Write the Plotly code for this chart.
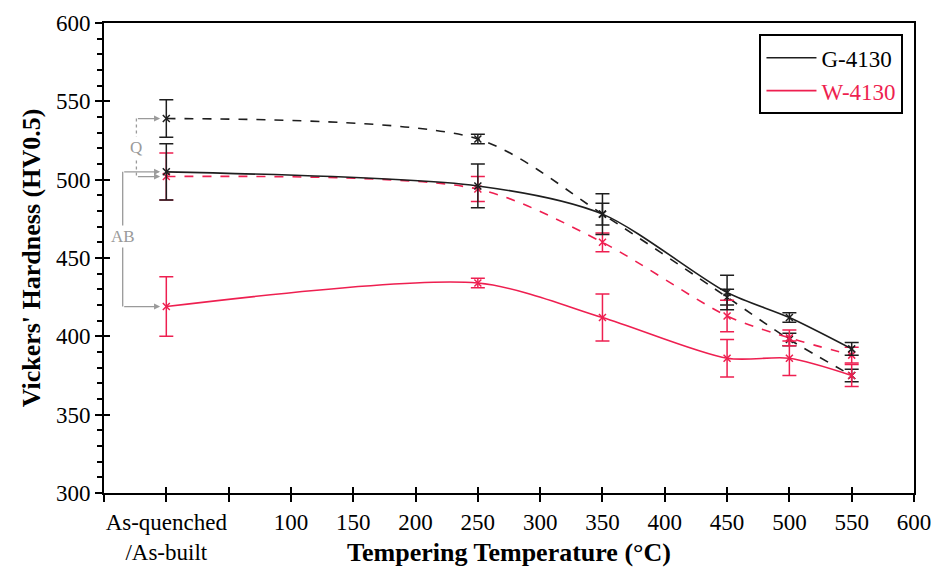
import plotly.graph_objects as go

temps = [0, 250, 350, 450, 500, 550]

g_ab = [505, 496, 478, 428, 412, 392]
g_ab_err = [18, 14, 13, 11, 3, 4]
g_q = [539, 526, 478, 425, 398, 375]
g_q_err = [12, 3, 7, 5, 4, 4]
w_ab = [419, 434, 412, 386, 386, 375]
w_ab_err = [19, 3, 15, 12, 11, 7]
w_q = [502, 494, 460, 413, 399, 388]
w_q_err = [15, 8, 6, 10, 5, 5]

x_tickvals = [-50, 0, 50, 100, 150, 200, 250, 300, 350, 400, 450, 500, 550, 600]
x_ticktext = ["", "As-quenched<br>/As-built", "", "100", "150", "200", "250", "300",
              "350", "400", "450", "500", "550", "600"]

BLACK = "#1e1e1e"
RED = "#ee1f50"
GREY = "#9a9a9a"
FONT = "Liberation Serif"

fig = go.Figure()

def add(y, err, color, dash, name):
    fig.add_trace(go.Scatter(
        x=temps, y=y, mode="lines+markers", name=name, showlegend=False,
        line=dict(color=color, width=1.6, dash=dash, shape="spline", smoothing=0.8),
        marker=dict(symbol="x-thin", size=7, line=dict(color=color, width=1.5)),
        error_y=dict(type="data", array=err, visible=True, color=color,
                     thickness=1.5, width=7),
    ))

add(g_q, g_q_err, BLACK, "dash", "G-4130 Q")
add(w_q, w_q_err, RED, "dash", "W-4130 Q")
add(g_ab, g_ab_err, BLACK, "solid", "G-4130")
add(w_ab, w_ab_err, RED, "solid", "W-4130")

# legend-only entries (line only)
fig.add_trace(go.Scatter(x=[None], y=[None], mode="lines", name="G-4130",
                         line=dict(color=BLACK, width=1.6)))
fig.add_trace(go.Scatter(x=[None], y=[None], mode="lines",
                         name=f"<span style='color:{RED}'>W-4130</span>",
                         line=dict(color=RED, width=1.6)))

# Q bracket (dotted grey)
qx = -24
fig.add_shape(type="line", x0=qx, x1=qx, y0=g_q[0], y1=w_q[0],
              line=dict(color=GREY, width=1.3, dash="dot"))
for yy in [g_q[0], w_q[0]]:
    fig.add_annotation(x=-5, y=yy, ax=qx, ay=yy, xref="x", yref="y",
                       axref="x", ayref="y", showarrow=True, arrowhead=2,
                       arrowsize=1, arrowwidth=1.2, arrowcolor=GREY, text="",
                       standoff=0)
fig.add_annotation(x=qx, y=(g_q[0] + w_q[0]) / 2, text="Q", showarrow=False,
                   font=dict(family=FONT, size=17, color=GREY), bgcolor="white")

# AB bracket (solid grey)
abx = -35
fig.add_shape(type="line", x0=abx, x1=abx, y0=g_ab[0], y1=w_ab[0],
              line=dict(color=GREY, width=1.3))
for yy in [g_ab[0], w_ab[0]]:
    fig.add_annotation(x=-5, y=yy, ax=abx, ay=yy, xref="x", yref="y",
                       axref="x", ayref="y", showarrow=True, arrowhead=2,
                       arrowsize=1, arrowwidth=1.2, arrowcolor=GREY, text="",
                       standoff=0)
fig.add_annotation(x=abx, y=(g_ab[0] + w_ab[0]) / 2 + 2, text="AB", showarrow=False,
                   font=dict(family=FONT, size=17, color=GREY), bgcolor="white")

fig.update_layout(
    width=933, height=567,
    margin=dict(l=104, r=19, t=23, b=74),
    plot_bgcolor="white", paper_bgcolor="white",
    font=dict(family=FONT, size=23, color="black"),
    showlegend=True,
    legend=dict(x=0.987, y=0.976, xanchor="right", yanchor="top",
                bordercolor="black", borderwidth=2, bgcolor="white",
                font=dict(family=FONT, size=23, color="black"),
                itemwidth=50, tracegroupgap=0),
    xaxis=dict(range=[-50, 600], tickvals=x_tickvals, ticktext=x_ticktext,
               ticks="outside", ticklen=7, tickwidth=2, tickcolor="black",
               showline=True, linecolor="black", linewidth=2, mirror=True,
               showgrid=False, zeroline=False, automargin=False,
               title=dict(text="<b>Tempering Temperature (°C)</b>",
                          font=dict(family=FONT, size=26), standoff=0),
               tickfont=dict(family=FONT, size=23)),
    yaxis=dict(range=[300, 600], dtick=50, ticks="outside", ticklen=7, tickwidth=2,
               tickcolor="black",
               showline=True, linecolor="black", linewidth=2, mirror=True,
               showgrid=False, zeroline=False, automargin=False,
               minor=dict(dtick=10, ticks="outside", ticklen=5, tickwidth=1.5,
                          tickcolor="black", showgrid=False),
               title=dict(text="<b>Vickers' Hardness (HV0.5)</b>",
                          font=dict(family=FONT, size=26), standoff=8),
               tickfont=dict(family=FONT, size=23)),
    xaxis2=dict(overlaying="x", range=[-50, 600], tickvals=x_tickvals,
                ticks="inside", ticklen=6, tickwidth=2, tickcolor="black",
                showticklabels=False, showgrid=False, zeroline=False,
                showline=False, side="bottom"),
    yaxis2=dict(overlaying="y", range=[300, 600], dtick=50,
                ticks="inside", ticklen=6, tickwidth=2, tickcolor="black",
                showticklabels=False, showgrid=False, zeroline=False,
                showline=False, side="left"),
)
fig.add_trace(go.Scatter(x=[None], y=[None], xaxis="x2", yaxis="y2",
                         showlegend=False, hoverinfo="skip"))

fig.write_html("out.html", config={"displayModeBar": False},
               post_script="document.body.style.margin='0';document.body.style.overflow='hidden';")
